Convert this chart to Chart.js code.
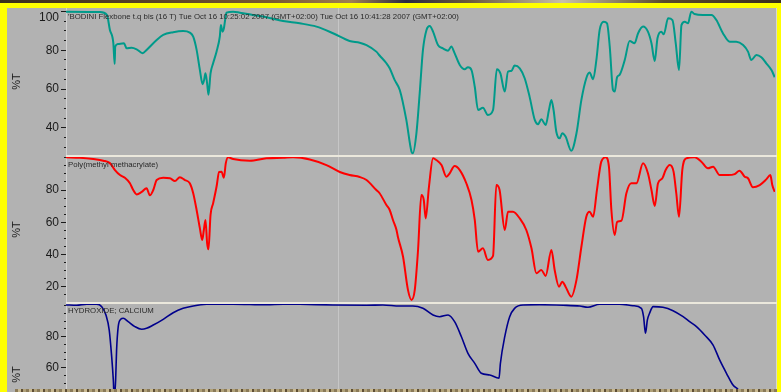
<!DOCTYPE html>
<html>
<head>
<meta charset="utf-8">
<script src="https://cdn.jsdelivr.net/npm/chart.js@4"></script>
<style>
  html, body { margin: 0; padding: 0; width: 781px; height: 392px; overflow: hidden; background: #b2b2b2; }
  body { position: relative; font-family: "Liberation Sans", Arial, sans-serif; }
  canvas { position: absolute; left: 0; }
  .deco { position: absolute; }
  #topStrip { left: 0; top: 0; width: 781px; height: 3px;
    background: linear-gradient(90deg, #3b2f1c 0%, #5a4426 20%, #7a5a30 35%, #a08050 45%, #2a2a40 52%, #6b5a3a 60%, #c8c0a8 72%, #5a4a2a 85%, #3a2e1c 100%); }
  #topYellow { left: 0; top: 3px; width: 781px; height: 5px; background: #ffff00; }
  #leftYellow { left: 0; top: 3px; width: 7px; height: 389px; background: #ffff00; }
  #rightLine { left: 776px; top: 8px; width: 1px; height: 384px; background: #d8d8cc; }
  #rightYellow { left: 777px; top: 3px; width: 4px; height: 389px; background: #ffff00; }
  #bottomStrip { left: 15px; top: 389px; width: 762px; height: 3px;
    background: repeating-linear-gradient(90deg, #8a7a58 0 3px, #c8b890 3px 6px, #5e4e34 6px 8px, #b0a078 8px 11px); }
  .sep { left: 66px; width: 711px; height: 2px; background: #ebe8dc; z-index: 5; }
</style>
</head>
<body>
<canvas id="tealChart" width="781" height="187" style="top:-12px"></canvas>
<canvas id="redChart" width="781" height="185" style="top:137px"></canvas>
<canvas id="blueChart" width="781" height="181" style="top:284px"></canvas>

<div class="deco sep" style="top:155px"></div>
<div class="deco sep" style="top:302px"></div>
<div class="deco" id="topStrip"></div>
<div class="deco" id="topYellow"></div>
<div class="deco" id="leftYellow"></div>
<div class="deco" id="rightLine"></div>
<div class="deco" id="rightYellow"></div>
<div class="deco" id="bottomStrip"></div>

<script>
// wavenumbers (cm-1) and %T
const tealWn = [4000, 3751, 3700, 3678, 3653, 3643, 3639, 3619, 3575, 3555,
  3519, 3482, 3438, 3409, 3335, 3287, 3214, 3141, 3092, 3067,
  3042, 3018, 2998, 2987, 2977, 2965, 2955, 2940, 2921, 2896,
  2872, 2864, 2852, 2842, 2833, 2823, 2774, 2725, 2630, 2530,
  2408, 2286, 2163, 2042, 1960, 1923, 1898, 1862, 1850, 1825,
  1813, 1795, 1776, 1752, 1733, 1728, 1715, 1703, 1691, 1678,
  1666, 1654, 1636, 1618, 1599, 1587, 1575, 1556, 1538, 1526,
  1513, 1501, 1489, 1471, 1453, 1434, 1420, 1407, 1391, 1379,
  1367, 1355, 1336, 1318, 1300, 1281, 1269, 1257, 1241, 1229,
  1220, 1212, 1202, 1190, 1180, 1168, 1147, 1128, 1110, 1092,
  1080, 1067, 1055, 1043, 1028, 1016, 1006, 994, 988, 979,
  970, 951, 933, 915, 902, 884, 866, 853, 841, 831,
  817, 808, 792, 776, 764, 752, 743, 731, 719, 707,
  695, 664, 633, 615, 591, 566, 542, 517, 499, 487,
  468, 450, 432, 413, 401];
const tealT = [99.9, 99.7, 98.2, 90.5, 83.8, 72.9, 81.9, 83.2, 83.6, 81.0,
  81.3, 80.5, 78.5, 80.2, 85.3, 87.9, 89.3, 89.9, 89.1, 87.0,
  80.2, 69.8, 62.5, 64.7, 68.1, 63.0, 57.1, 68.1, 73.3, 79.3,
  87.0, 93.0, 89.6, 91.3, 95.6, 99.4, 99.9, 99.4, 98.2, 97.0,
  95.1, 93.9, 92.2, 88.8, 84.8, 83.9, 82.7, 79.3, 77.3, 73.3,
  70.7, 64.7, 59.5, 44.1, 27.7, 26.9, 37.2, 57.8, 80.2, 90.5,
  92.5, 89.6, 82.7, 81.0, 79.8, 81.9, 78.5, 72.4, 70.2, 71.2,
  69.8, 61.2, 49.2, 50.4, 46.6, 49.2, 70.2, 68.1, 58.7, 69.0,
  69.3, 72.1, 70.7, 65.6, 56.1, 44.1, 41.9, 44.4, 41.5, 49.2,
  54.4, 49.2, 38.0, 34.6, 37.2, 35.5, 28.2, 37.2, 54.4, 65.6,
  68.5, 65.1, 75.0, 90.5, 94.7, 93.9, 81.9, 59.5, 58.7, 66.1,
  67.3, 75.0, 84.8, 83.6, 88.8, 92.2, 89.6, 83.6, 74.5, 86.2,
  89.6, 88.2, 96.5, 95.6, 83.6, 69.8, 93.0, 94.7, 93.9, 99.9,
  98.7, 98.2, 98.2, 95.6, 88.8, 84.4, 84.4, 82.7, 79.3, 75.0,
  77.6, 76.4, 73.3, 69.8, 66.1];

const redWn = [4000, 3897, 3800, 3727, 3678, 3641, 3604, 3568, 3531, 3507,
  3482, 3445, 3409, 3385, 3360, 3335, 3287, 3238, 3201, 3165,
  3128, 3092, 3067, 3042, 3018, 3001, 2989, 2977, 2965, 2955,
  2940, 2921, 2896, 2877, 2859, 2842, 2828, 2811, 2774, 2652,
  2530, 2408, 2335, 2212, 2090, 1996, 1960, 1923, 1898, 1862,
  1850, 1825, 1813, 1801, 1788, 1783, 1764, 1746, 1733, 1721,
  1709, 1697, 1688, 1681, 1669, 1654, 1642, 1623, 1605, 1593,
  1575, 1556, 1532, 1513, 1501, 1489, 1471, 1453, 1434, 1422,
  1410, 1391, 1379, 1361, 1336, 1312, 1293, 1275, 1257, 1241,
  1220, 1208, 1192, 1180, 1168, 1147, 1128, 1110, 1092, 1080,
  1067, 1053, 1037, 1021, 1009, 1000, 988, 979, 963, 945,
  927, 908, 884, 866, 853, 841, 829, 813, 801, 786,
  772, 762, 752, 740, 725, 695, 670, 646, 627, 603,
  572, 548, 530, 511, 499, 481, 456, 432, 417, 410, 401];
const redT = [100.3, 100.0, 99.2, 98.2, 96.7, 92.4, 89.3, 87.6, 84.2, 80.0,
  77.3, 78.8, 81.1, 76.7, 80.0, 86.2, 87.6, 87.3, 85.6, 87.9,
  86.2, 84.2, 78.0, 67.6, 56.2, 49.0, 55.2, 61.4, 47.1, 43.2,
  64.5, 71.7, 82.0, 91.2, 91.4, 87.6, 96.7, 100.3, 99.2, 98.2,
  99.7, 100.0, 100.3, 99.0, 95.5, 91.2, 89.3, 88.1, 86.2, 80.0,
  78.0, 70.7, 67.6, 61.4, 55.2, 51.0, 38.6, 18.0, 11.8, 18.0,
  42.8, 76.9, 73.8, 62.4, 82.0, 99.7, 98.6, 95.5, 88.3, 90.4,
  94.9, 92.4, 84.2, 73.8, 61.4, 41.7, 43.8, 36.6, 39.1, 83.1,
  80.0, 55.2, 66.5, 66.5, 62.4, 55.2, 43.8, 28.3, 30.4, 26.7,
  42.8, 30.4, 20.0, 23.1, 20.0, 13.8, 24.2, 44.8, 63.4, 66.5,
  63.4, 80.0, 97.6, 100.3, 94.5, 67.6, 52.1, 60.3, 61.0, 78.0,
  84.2, 84.2, 96.6, 90.4, 80.0, 70.1, 84.2, 87.3, 92.4, 95.5,
  91.4, 78.0, 63.4, 92.4, 99.7, 100.3, 97.6, 93.5, 94.5, 89.3,
  89.3, 89.9, 92.0, 88.3, 87.3, 81.7, 83.1, 86.6, 89.3, 83.1, 78.9];

const blueWn = [4000, 3922, 3848, 3775, 3738, 3707, 3683, 3665, 3653, 3646,
  3636, 3629, 3617, 3599, 3580, 3544, 3495, 3445, 3409, 3360,
  3287, 3214, 3141, 3067, 2969, 2896, 2774, 2530, 2408, 2286,
  2042, 1898, 1838, 1776, 1728, 1691, 1654, 1630, 1599, 1575,
  1550, 1526, 1501, 1477, 1446, 1412, 1407, 1391, 1373, 1355,
  1324, 1263, 1177, 1116, 1086, 1043, 970, 921, 890, 882,
  875, 868, 860, 847, 811, 774, 737, 713, 688, 658,
  627, 603, 578, 554, 536, 493, 401];
const blueT = [100.5, 100.3, 101.0, 101.0, 99.4, 94.0, 84.3, 67.1, 52.1, 40.0,
  52.1, 71.4, 86.5, 91.2, 91.9, 89.7, 86.5, 84.8, 85.4, 87.5,
  91.2, 95.5, 98.3, 99.8, 100.9, 101.0, 101.0, 100.6, 101.0, 100.9,
  100.5, 100.3, 100.5, 99.8, 99.8, 98.3, 94.0, 92.9, 94.0, 89.7,
  80.0, 69.3, 62.8, 56.4, 55.3, 53.2, 62.8, 80.0, 92.9, 98.3,
  100.5, 100.6, 100.3, 99.8, 99.0, 100.9, 101.0, 100.0, 98.3, 92.9,
  82.2, 90.8, 95.1, 99.4, 99.0, 96.8, 92.9, 89.7, 86.5, 81.1,
  74.6, 65.0, 56.4, 48.8, 46.1, 38, 30];

// labelled ticks of each %T axis, minor ticks every 5
const tealTicks = [40, 60, 80, 100];
const redTicks = [20, 40, 60, 80];
const blueTicks = [20, 40, 60, 80];
const minorStep = 5;

const tealRange = [26, 101.8];
const redRange = [10.5, 100.5];
const blueRange = [10.1, 101.1];

const tealNote = "'BODINI Flexbone t.q bis (16 T) Tue Oct 16 10:25:02 2007 (GMT+02:00) Tue Oct 16 10:41:28 2007 (GMT+02:00)";
const redNote = 'Poly(methyl methacrylate)';
const blueNote = 'HYDROXIDE; CALCIUM';

// the spectrometer axis: 4000-2000 is squeezed to half, 2000-400 normal
function wnToPos(wn) {
  return wn >= 2000 ? (4000 - wn) / 2 : 1000 + (2000 - wn);
}

const panelNote = {
  id: 'panelNote',
  afterDraw(chart, args, opts) {
    const { ctx, chartArea } = chart;
    ctx.save();
    ctx.font = '7.8px "Liberation Sans", Arial, sans-serif';
    ctx.fillStyle = '#2a2a2a';
    ctx.textBaseline = 'middle';
    ctx.fillText(opts.text, chartArea.left + 2, chartArea.top + opts.offset);
    ctx.restore();
  }
};

function makePanel(id, wn, t, color, width, range, labelled, note, noteOffset, topLabelDown) {
  const ctx = document.querySelector('#' + id);
  const points = wn.map((w, i) => ({ x: wnToPos(w), y: t[i] }));
  const tickVals = [];
  for (let v = Math.ceil(range[0] / minorStep) * minorStep; v <= range[1]; v += minorStep) {
    tickVals.push(v);
  }
  return new Chart(ctx, {
    type: 'line',
    data: {
      datasets: [{
        data: points,
        borderColor: color,
        borderWidth: width,
        pointRadius: 0,
        cubicInterpolationMode: 'monotone',
        fill: false
      }]
    },
    options: {
      responsive: false,
      animation: false,
      layout: { padding: { top: 20, bottom: 20, left: 0, right: 6 } },
      plugins: {
        legend: { display: false },
        tooltip: { enabled: false },
        panelNote: { text: note, offset: noteOffset }
      },
      scales: {
        x: {
          type: 'linear',
          min: 0,
          max: 2600,
          afterBuildTicks: s => { s.ticks = [{ value: 1000 }]; },
          afterFit: s => { s.height = 0; },
          ticks: { display: false },
          grid: { color: 'rgba(212,212,212,0.6)', drawTicks: false, tickLength: 0 },
          border: { display: false }
        },
        y: {
          min: range[0],
          max: range[1],
          afterBuildTicks: s => { s.ticks = tickVals.map(v => ({ value: v })); },
          afterFit: s => { s.width = 66; },
          title: {
            display: true,
            text: '%T',
            color: '#1a1a1a',
            font: { family: '"Liberation Sans", Arial, sans-serif', size: 11 },
            padding: { top: 10, bottom: 0 }
          },
          ticks: {
            autoSkip: false,
            color: '#1a1a1a',
            padding: 2,
            font: { family: '"Liberation Sans", Arial, sans-serif', size: 12, lineHeight: 1.0 },
            callback: v => {
              if (!labelled.includes(v)) return '';
              if (topLabelDown && v === labelled[labelled.length - 1]) return ['', String(v)];
              return String(v);
            }
          },
          grid: {
            drawOnChartArea: false,
            tickLength: 5,
            tickColor: '#1a1a1a',
            tickWidth: 1,
            tickBorderDash: c => labelled.includes(c.tick.value) ? [] : [0, 3, 2, 50]
          },
          border: { display: true, color: '#d2d2d2', width: 1, dash: [2, 2] }
        }
      }
    },
    plugins: [panelNote]
  });
}

makePanel('tealChart', tealWn, tealT, '#009a8a', 2, tealRange, tealTicks, tealNote, 9, true);
makePanel('redChart', redWn, redT, '#ff0000', 2, redRange, redTicks, redNote, 8, false);
makePanel('blueChart', blueWn, blueT, '#00008c', 1.6, blueRange, blueTicks, blueNote, 7, false);
</script>
</body>
</html>
